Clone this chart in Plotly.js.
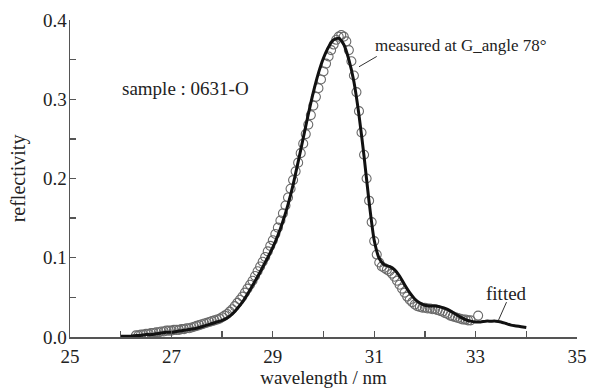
<!DOCTYPE html>
<html>
<head>
<meta charset="utf-8">
<script src="https://cdn.plot.ly/plotly-3.0.1.min.js"></script>
<style>html,body{margin:0;padding:0;background:#fff;}#chart{width:595px;height:389px;}</style>
</head>
<body>
<div id="chart"></div>
<script>
// Measured reflectivity (open circles)
const measuredX = [26.30,26.35,26.40,26.45,26.50,26.55,26.60,26.65,26.70,26.75,26.80,26.85,26.90,26.95,27.00,27.05,27.10,27.15,27.20,27.25,27.30,27.35,27.40,27.45,27.50,27.55,27.60,27.65,27.70,27.75,27.80,27.85,27.90,27.95,28.00,28.05,28.10,28.15,28.20,28.25,28.30,28.35,28.40,28.45,28.50,28.55,28.60,28.65,28.70,28.75,28.80,28.85,28.90,28.95,29.00,29.05,29.10,29.15,29.20,29.25,29.30,29.35,29.40,29.45,29.50,29.55,29.60,29.65,29.70,29.75,29.80,29.85,29.90,29.95,30.00,30.05,30.10,30.15,30.20,30.25,30.30,30.35,30.40,30.45,30.50,30.55,30.60,30.65,30.70,30.75,30.80,30.85,30.90,30.95,31.00,31.05,31.10,31.15,31.20,31.25,31.30,31.35,31.40,31.45,31.50,31.55,31.60,31.65,31.70,31.75,31.80,31.85,31.90,31.95,32.00,32.05,32.10,32.15,32.20,32.25,32.30,32.35,32.40,32.45,32.50,32.55,32.60,32.65,32.70,32.75,32.80,32.85,32.90,33.05];
const measuredY = [0.002,0.002,0.003,0.003,0.004,0.004,0.005,0.005,0.006,0.006,0.007,0.007,0.008,0.008,0.008,0.009,0.009,0.009,0.010,0.010,0.011,0.011,0.012,0.013,0.014,0.015,0.016,0.017,0.018,0.019,0.020,0.021,0.022,0.023,0.025,0.027,0.029,0.032,0.035,0.039,0.043,0.047,0.051,0.056,0.061,0.066,0.071,0.077,0.083,0.089,0.095,0.101,0.108,0.115,0.122,0.130,0.138,0.147,0.156,0.166,0.176,0.187,0.198,0.209,0.220,0.232,0.244,0.256,0.268,0.280,0.292,0.303,0.314,0.325,0.335,0.345,0.354,0.362,0.369,0.375,0.379,0.381,0.379,0.373,0.362,0.348,0.330,0.309,0.285,0.258,0.230,0.200,0.172,0.145,0.121,0.104,0.094,0.089,0.087,0.085,0.083,0.080,0.076,0.071,0.066,0.061,0.056,0.051,0.047,0.044,0.041,0.039,0.038,0.037,0.037,0.036,0.036,0.035,0.035,0.034,0.033,0.032,0.030,0.029,0.027,0.026,0.025,0.024,0.023,0.022,0.022,0.021,0.021,0.027];

// Fitted curve (solid line)
const fittedX = [26.0,26.1,26.2,26.3,26.4,26.5,26.6,26.7,26.8,26.9,27.0,27.1,27.2,27.3,27.4,27.5,27.6,27.7,27.8,27.9,28.0,28.1,28.2,28.3,28.4,28.5,28.6,28.7,28.8,28.9,29.0,29.1,29.2,29.3,29.4,29.5,29.6,29.7,29.8,29.9,30.0,30.1,30.2,30.3,30.4,30.5,30.6,30.7,30.8,30.9,31.0,31.1,31.2,31.3,31.4,31.5,31.6,31.7,31.8,31.9,32.0,32.1,32.2,32.3,32.4,32.5,32.6,32.7,32.8,32.9,33.0,33.1,33.2,33.3,33.4,33.5,33.6,33.7,33.8,33.9,34.0];
const fittedY = [0.001,0.001,0.001,0.002,0.002,0.003,0.003,0.004,0.005,0.006,0.006,0.007,0.008,0.009,0.010,0.011,0.013,0.015,0.017,0.019,0.021,0.024,0.029,0.036,0.044,0.054,0.065,0.076,0.088,0.100,0.113,0.128,0.146,0.167,0.192,0.221,0.251,0.281,0.309,0.333,0.352,0.366,0.375,0.377,0.369,0.350,0.322,0.280,0.228,0.170,0.122,0.099,0.091,0.089,0.085,0.077,0.066,0.056,0.048,0.043,0.040,0.039,0.039,0.038,0.036,0.033,0.029,0.025,0.022,0.020,0.019,0.019,0.020,0.020,0.020,0.019,0.017,0.015,0.014,0.013,0.012];

const xTickVals = [25,27,29,31,33,35];
const yTickVals = [0.0,0.1,0.2,0.3,0.4];
const yTickText = ['0.0','0.1','0.2','0.3','0.4'];

const FONT = 'Liberation Serif, Times New Roman, serif';

const traces = [
  {x: measuredX, y: measuredY, type:'scatter', mode:'markers',
   marker:{symbol:'circle-open', size:9, color:'#6a6a6a', line:{width:1.1, color:'#6a6a6a'}},
   showlegend:false, hoverinfo:'skip'},
  {x: fittedX, y: fittedY, type:'scatter', mode:'lines',
   line:{color:'#111', width:3, shape:'spline', smoothing:0.6},
   showlegend:false, hoverinfo:'skip'}
];

const layout = {
  width:595, height:389,
  margin:{l:70, r:18, t:20, b:52},
  paper_bgcolor:'#fff', plot_bgcolor:'#fff',
  font:{family:FONT, size:19, color:'#222'},
  xaxis:{
    range:[25,35], showgrid:false, zeroline:false,
    showline:true, linecolor:'#555', linewidth:1.5,
    ticks:'inside', ticklen:6, tickwidth:1.3, tickcolor:'#555',
    tickvals:xTickVals, ticktext:xTickVals.map(String),
    minor:{dtick:1, tick0:25, ticks:'inside', ticklen:6, tickwidth:1.3, tickcolor:'#555', showgrid:false},
    tickfont:{family:FONT, size:19, color:'#222'},
    ticklabelstandoff:2,
    title:{text:'wavelength / nm', font:{family:FONT, size:19, color:'#222'}, standoff:2}
  },
  yaxis:{
    range:[0,0.4], showgrid:false, zeroline:false,
    showline:true, linecolor:'#555', linewidth:1.5,
    ticks:'inside', ticklen:6, tickwidth:1.3, tickcolor:'#555',
    tickvals:yTickVals, ticktext:yTickText,
    minor:{dtick:0.05, tick0:0, ticks:'inside', ticklen:6, tickwidth:1.3, tickcolor:'#555', showgrid:false},
    tickfont:{family:FONT, size:19, color:'#222'},
    ticklabelstandoff:-2,
    title:{text:'reflectivity', font:{family:FONT, size:20, color:'#222'}, standoff:12}
  },
  shapes:[
    {type:'line', xref:'x', yref:'y', x0:30.70, y0:0.341, x1:31.05, y1:0.354, line:{color:'#333', width:1}},
    {type:'line', xref:'x', yref:'y', x0:33.45, y0:0.021, x1:33.61, y1:0.044, line:{color:'#333', width:1}}
  ],
  annotations:[
    {x:27.27, y:0.314, xref:'x', yref:'y', text:'sample : 0631-O', showarrow:false, font:{family:FONT, size:19, color:'#222'}},
    {x:30.98, y:0.368, xref:'x', yref:'y', xanchor:'left', text:'measured at G_angle 78°', showarrow:false, font:{family:FONT, size:17, color:'#222'}},
    {x:33.61, y:0.0555, xref:'x', yref:'y', text:'fitted', showarrow:false, font:{family:FONT, size:19, color:'#222'}}
  ]
};

Plotly.newPlot('chart', traces, layout, {staticPlot:true, displayModeBar:false});
</script>
</body>
</html>
